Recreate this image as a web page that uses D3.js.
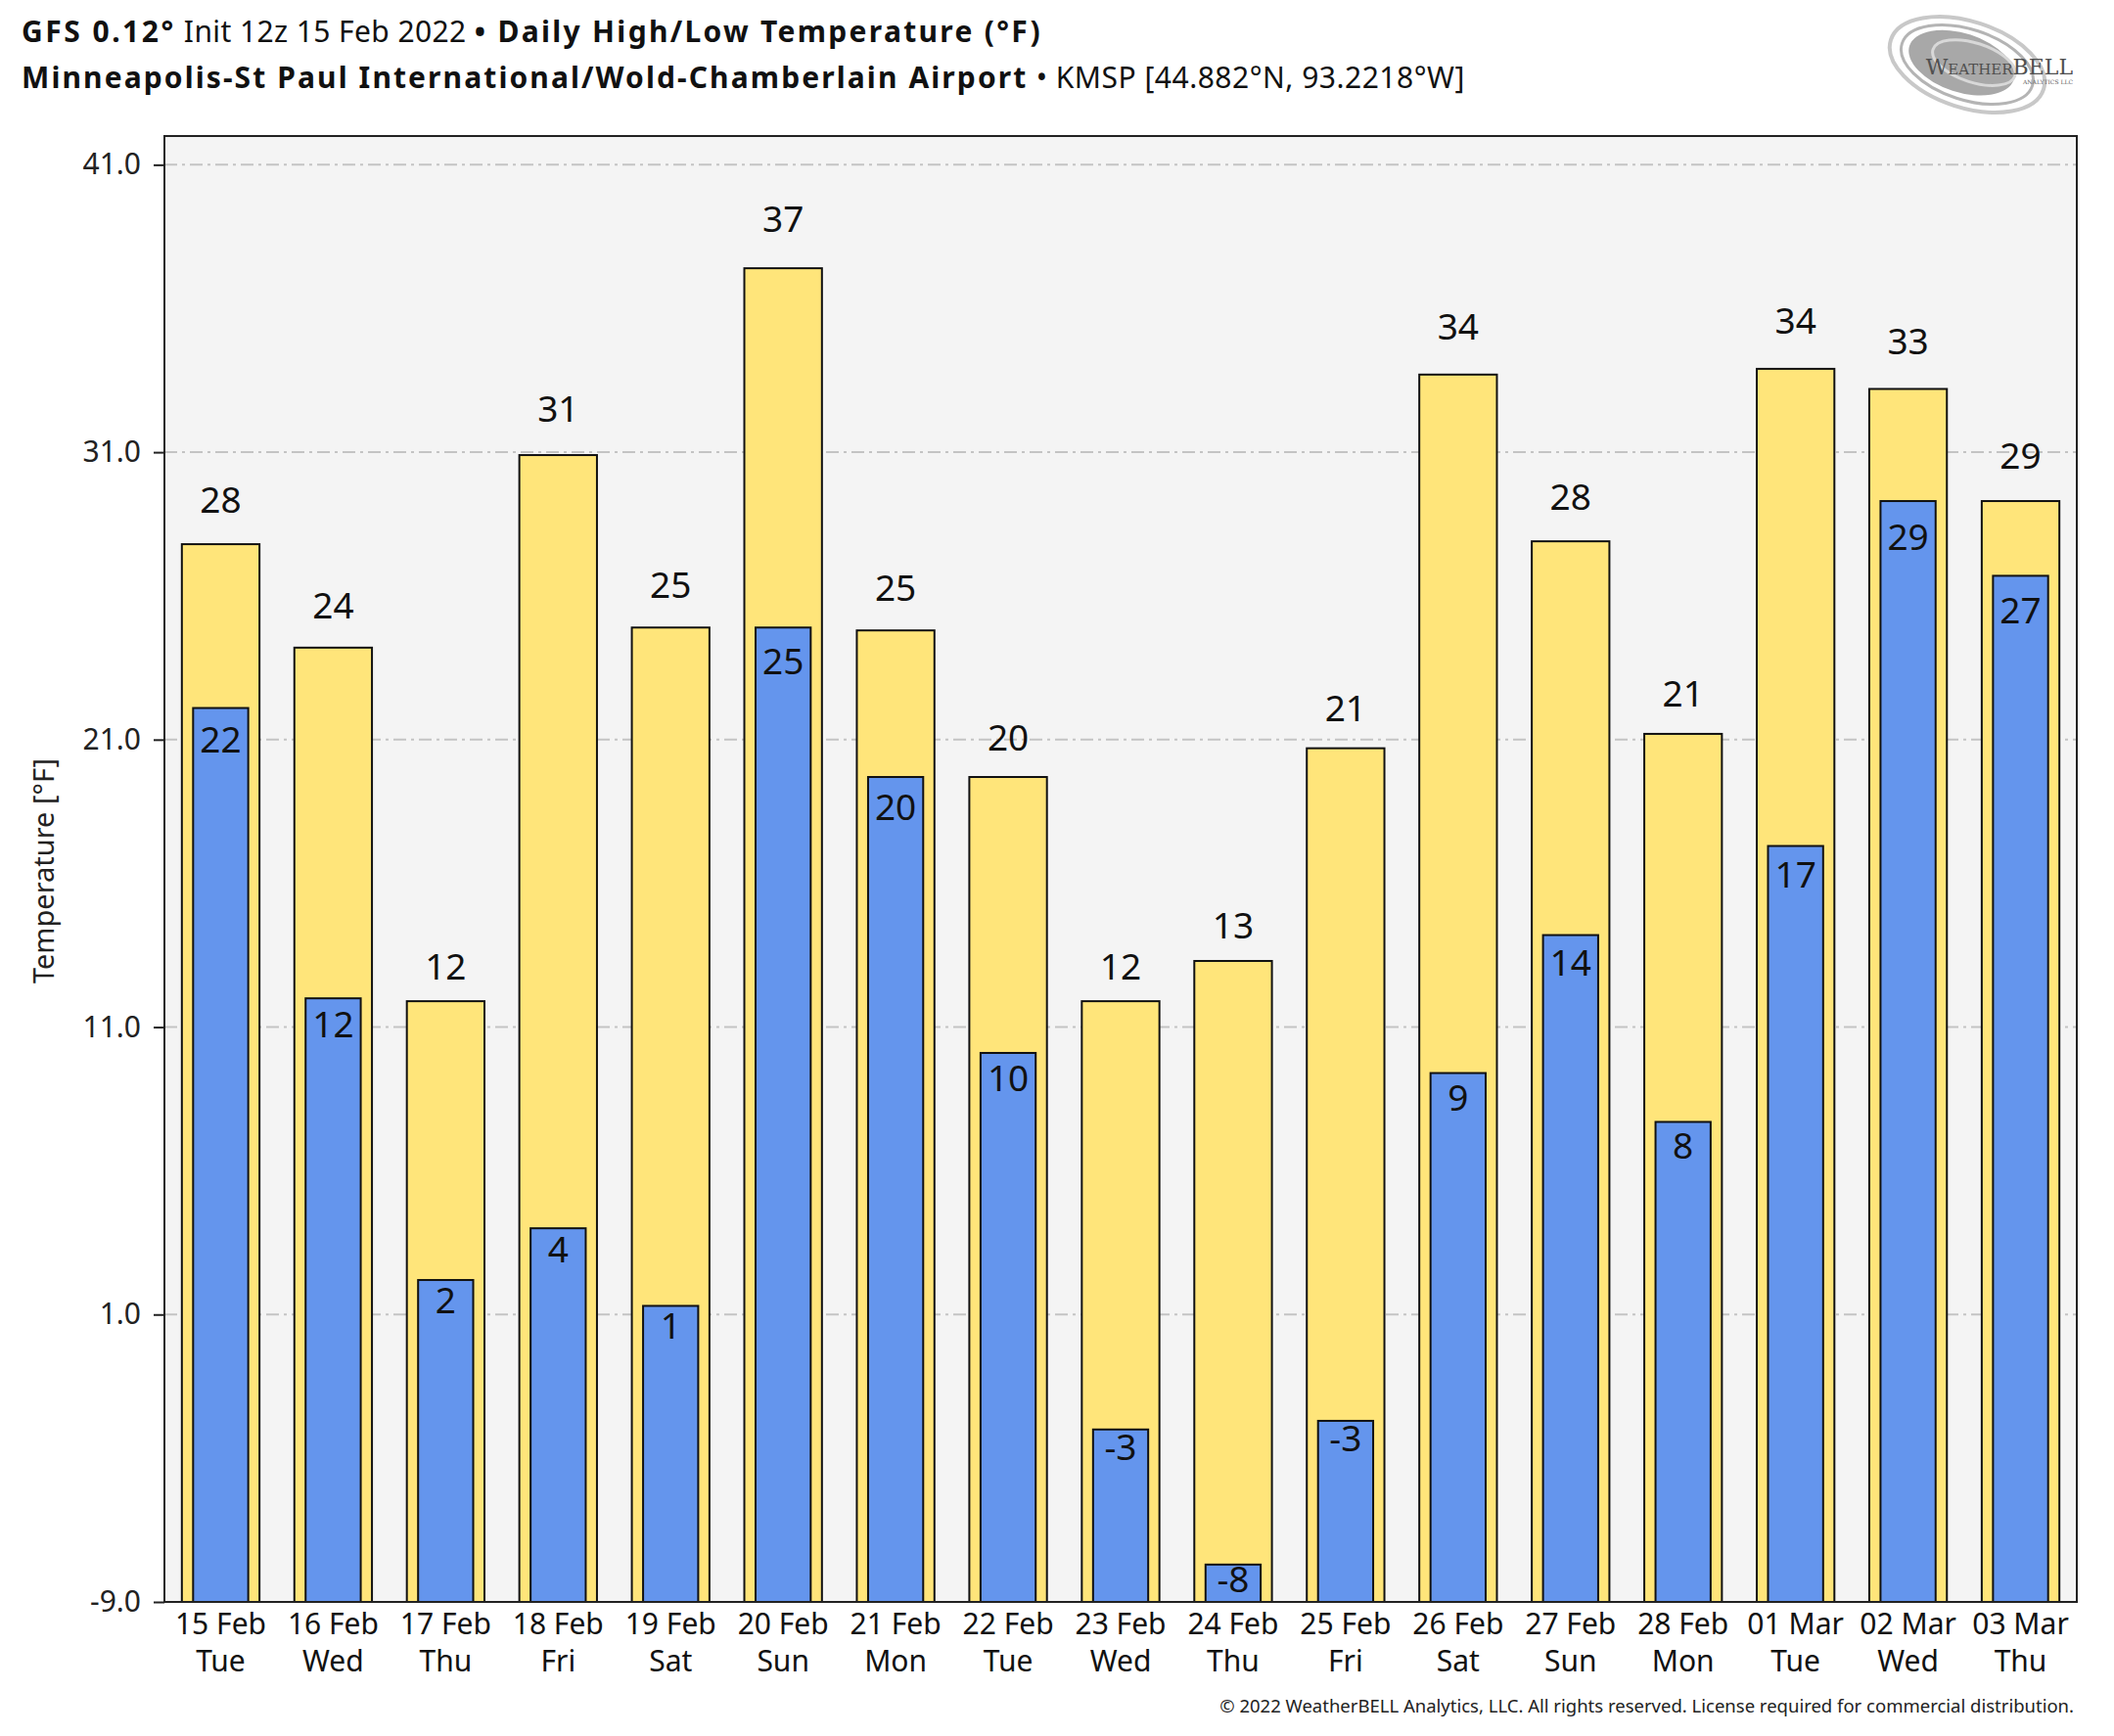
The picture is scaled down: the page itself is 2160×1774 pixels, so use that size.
<!DOCTYPE html>
<html>
<head>
<meta charset="utf-8">
<script src="https://cdn.jsdelivr.net/npm/d3@7"></script>
<style>
  html, body { margin: 0; padding: 0; background: #fff; }
  text { font-family: "Noto Sans", "Open Sans", sans-serif; }
</style>
</head>
<body>
<script>
// forecast days
var dates = ["15 Feb", "16 Feb", "17 Feb", "18 Feb", "19 Feb", "20 Feb", "21 Feb", "22 Feb", "23 Feb",
             "24 Feb", "25 Feb", "26 Feb", "27 Feb", "28 Feb", "01 Mar", "02 Mar", "03 Mar"];
var days = ["Tue", "Wed", "Thu", "Fri", "Sat", "Sun", "Mon", "Tue", "Wed",
            "Thu", "Fri", "Sat", "Sun", "Mon", "Tue", "Wed", "Thu"];

// daily high / low (F)
var highs = [27.8, 24.2, 11.9, 30.9, 24.9, 37.4, 24.8, 19.7, 11.9, 13.3, 20.7, 33.7, 27.9, 21.2, 33.9, 33.2, 29.3];
var lows  = [22.1, 12.0,  2.2,  4.0,  1.3, 24.9, 19.7, 10.1, -3.0, -7.7, -2.7,  9.4, 14.2,  7.7, 17.3, 29.3, 26.7];

var yTicks = [-9, 1, 11, 21, 31, 41];
var yDomain = [-9, 42];

var W = 2160, H = 1774;
var pL = 168, pR = 2122, pT = 139, pB = 1637;

var svg = d3.select("body").append("svg")
  .attr("width", W)
  .attr("height", H);

var x = d3.scaleBand().domain(dates).range([pL, pR]);
var y = d3.scaleLinear().domain(yDomain).range([pB, pT]);
var bw = x.bandwidth();

// plot background
svg.append("rect")
  .attr("x", pL).attr("y", pT)
  .attr("width", pR - pL).attr("height", pB - pT)
  .attr("fill", "#f4f4f4");

// grid
svg.append("g").selectAll("line")
  .data(yTicks.filter(function (d) { return d > yDomain[0]; }))
  .enter().append("line")
  .attr("x1", pL).attr("x2", pR)
  .attr("y1", function (d) { return y(d); })
  .attr("y2", function (d) { return y(d); })
  .attr("stroke", "#c4c4c4")
  .attr("stroke-width", 2)
  .attr("stroke-dasharray", "13,5,3,5");

// high bars
svg.append("g").selectAll("rect")
  .data(highs)
  .enter().append("rect")
  .attr("x", function (d, i) { return x(dates[i]) + bw * 0.155; })
  .attr("width", bw * 0.69)
  .attr("y", function (d) { return y(d); })
  .attr("height", function (d) { return pB - y(d); })
  .attr("fill", "#ffe57a")
  .attr("stroke", "#111")
  .attr("stroke-width", 2);

// low bars
svg.append("g").selectAll("rect")
  .data(lows)
  .enter().append("rect")
  .attr("x", function (d, i) { return x(dates[i]) + bw * 0.255; })
  .attr("width", bw * 0.49)
  .attr("y", function (d) { return y(d); })
  .attr("height", function (d) { return pB - y(d); })
  .attr("fill", "#6495ed")
  .attr("stroke", "#111")
  .attr("stroke-width", 2);

var fs = 37;

// high labels above bars
svg.append("g").selectAll("text")
  .data(highs)
  .enter().append("text")
  .attr("x", function (d, i) { return x(dates[i]) + bw / 2; })
  .attr("y", function (d) {
    var t = y(d);
    return t - (23.6 + 0.02 * (pB - t)) + fs * 0.36;
  })
  .attr("text-anchor", "middle")
  .attr("font-size", fs)
  .attr("fill", "#111")
  .text(function (d) { return Math.round(d); });

// low labels inside bars
svg.append("g").selectAll("text")
  .data(lows)
  .enter().append("text")
  .attr("x", function (d, i) { return x(dates[i]) + bw / 2; })
  .attr("y", function (d) {
    var t = y(d);
    return t + (14.2 + 0.02 * (pB - t)) + fs * 0.36;
  })
  .attr("text-anchor", "middle")
  .attr("font-size", fs)
  .attr("fill", "#111")
  .text(function (d) { return Math.round(d); });

// frame
svg.append("rect")
  .attr("x", pL).attr("y", pT)
  .attr("width", pR - pL).attr("height", pB - pT)
  .attr("fill", "none")
  .attr("stroke", "#222")
  .attr("stroke-width", 2);

// y axis (plain hyphen for negatives, like the original)
var yAxis = svg.append("g")
  .attr("transform", "translate(" + pL + ",0)")
  .call(d3.axisLeft(y).tickValues(yTicks)
    .tickFormat(function (d) { return d.toFixed(1); })
    .tickSize(11).tickPadding(13));
yAxis.select(".domain").remove();
yAxis.selectAll("line").attr("stroke", "#222").attr("stroke-width", 2);
yAxis.selectAll("text")
  .attr("font-size", 30)
  .attr("fill", "#222")
  .style("font-family", "'Noto Sans', sans-serif");

// x axis: date + weekday
var xl = svg.append("g").selectAll("text")
  .data(dates)
  .enter().append("text")
  .attr("text-anchor", "middle")
  .attr("font-size", 30)
  .attr("fill", "#111");
xl.append("tspan")
  .attr("x", function (d) { return x(d) + bw / 2; })
  .attr("y", 1670)
  .text(function (d) { return d; });
xl.append("tspan")
  .attr("x", function (d) { return x(d) + bw / 2; })
  .attr("y", 1708)
  .text(function (d, i) { return days[i]; });

// y axis title
svg.append("text")
  .attr("transform", "translate(55,890) rotate(-90)")
  .attr("text-anchor", "middle")
  .attr("font-size", 29)
  .attr("fill", "#222")
  .text("Temperature [°F]");

// titles
var t1 = svg.append("text").attr("x", 22).attr("y", 43).attr("font-size", 30).attr("fill", "#111");
t1.append("tspan").attr("font-weight", "bold").attr("letter-spacing", 2.5).text("GFS 0.12°");
t1.append("tspan").attr("letter-spacing", 0.4).text(" Init 12z 15 Feb 2022 ");
t1.append("tspan").attr("font-weight", "bold").attr("letter-spacing", 2.3).text("• Daily High/Low Temperature (°F)");

var t2 = svg.append("text").attr("x", 22).attr("y", 90).attr("font-size", 30).attr("fill", "#111");
t2.append("tspan").attr("font-weight", "bold").attr("letter-spacing", 2.1)
  .text("Minneapolis-St Paul International/Wold-Chamberlain Airport");
t2.append("tspan").attr("letter-spacing", 0.5).text(" • KMSP [44.882°N, 93.2218°W]");

// copyright
svg.append("text")
  .attr("x", 2119).attr("y", 1750)
  .attr("text-anchor", "end")
  .attr("font-size", 18.5)
  .attr("fill", "#222")
  .text("© 2022 WeatherBELL Analytics, LLC. All rights reserved. License required for commercial distribution.");

// logo
var logo = svg.append("g").attr("transform", "translate(2010,66) rotate(18)");
logo.append("ellipse").attr("rx", 82).attr("ry", 44).attr("fill", "none")
  .attr("stroke", "#c8c8c8").attr("stroke-width", 4);
logo.append("ellipse").attr("rx", 70).attr("ry", 36).attr("fill", "none")
  .attr("stroke", "#b4b4b4").attr("stroke-width", 3);
logo.append("ellipse").attr("cx", -6).attr("rx", 56).attr("ry", 30).attr("fill", "#a8a8a8");
logo.append("ellipse").attr("cx", 6).attr("cy", -4).attr("rx", 44).attr("ry", 20).attr("fill", "none")
  .attr("stroke", "#d8d8d8").attr("stroke-width", 3);
svg.append("text")
  .attr("x", 2118).attr("y", 76)
  .attr("text-anchor", "end")
  .attr("font-size", 22)
  .attr("fill", "#505050")
  .style("font-family", "'DejaVu Serif', 'Liberation Serif', serif")
  .style("font-variant", "small-caps")
  .text("WeatherBELL");
svg.append("text")
  .attr("x", 2118).attr("y", 86)
  .attr("text-anchor", "end")
  .attr("font-size", 6)
  .attr("fill", "#606060")
  .style("font-family", "'DejaVu Serif', serif")
  .text("ANALYTICS LLC");
</script>
</body>
</html>
